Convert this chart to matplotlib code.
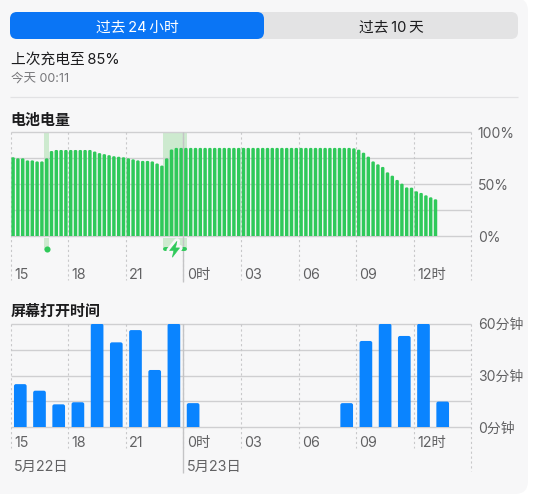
import matplotlib
matplotlib.use("Agg")
import matplotlib.pyplot as plt
from matplotlib.patches import FancyBboxPatch, Polygon, PathPatch
from matplotlib.path import Path

plt.rcParams['font.family'] = ['Inter', 'Noto Sans CJK SC', 'DejaVu Sans']

battery_values = [76,75,75,73,73,72,72,75,82,83,83,83,83,83,83,83,83,81.5,80,79,78,77,76.5,76,75,74,73,72.5,72.5,72,70,68,75,83.5]
battery_values += [85]*37
battery_values += [84.6,83.3,80.4,76.6,72,69.2,66.7,61.5,58.3,54.2,50.6,47,46.8,43.3,41.7,39.4,37.5,35.6]
screen_values = [25,21.2,13.3,14.5,60,49.2,56.3,33.2,60,14,0,0,0,0,0,0,0,14,50,60,52.9,60,14.9]
charge_spans = [(1.75, 2.0), (7.95, 9.18)]
tick_hours = [0,3,6,9,12,15,18,21]
tick_labels = ['15','18','21','0时','03','06','09','12时']
batt_ticks = [0,50,100]
batt_tick_labels = ['0%','50%','100%']
screen_ticks = [0,30,60]
screen_tick_labels = ['0分钟','30分钟','60分钟']

W, H = 542, 499
BG = '#f7f7f8'; GRID = '#cfcfd1'; DOT = '#c8c8ca'; TXT = '#616163'; BLK = '#1c1c1e'
GREEN = '#2fc95a'; SHADE = '#cdeacf'; BLUE = '#0a84ff'

fig = plt.figure(figsize=(W/100, H/100), dpi=100, facecolor='white')
bgax = fig.add_axes([0,0,1,1]); bgax.set_xlim(0,W); bgax.set_ylim(H,0); bgax.axis('off')
bgax.add_patch(FancyBboxPatch((-20,-2),548,496,boxstyle='round,pad=0,rounding_size=13',fc=BG,ec='none'))
bgax.add_patch(FancyBboxPatch((10,12),508,27,boxstyle='round,pad=0,rounding_size=7',fc='#e3e3e4',ec='none'))
bgax.add_patch(FancyBboxPatch((10,12),254,27,boxstyle='round,pad=0,rounding_size=7',fc='#0a75f5',ec='none'))
TC = dict(ha='center', va='center_baseline')
TL = dict(ha='left', va='center_baseline')
bgax.text(137,26,'过去\u200924\u2009小时',color='white',fontsize=10.6,**TC)
bgax.text(391,26,'过去\u200910\u2009天',color=BLK,fontsize=10.6,**TC)
bgax.text(11,58.5,'上次充电至\u200985%',color=BLK,fontsize=10.6,**TL)
bgax.text(11,77,'今天 00:11',color='#77777a',fontsize=9.0,**TL)
bgax.plot([10,518],[97,97],color='#e2e2e4',lw=0.9,solid_capstyle='butt')
bgax.text(10.3,119,'电池电量',color=BLK,fontsize=10.8,fontweight='bold',**TL)
bgax.text(10.3,310.5,'屏幕打开时间',color=BLK,fontsize=10.8,fontweight='bold',**TL)

X0, X1 = 10.7, 471.5
def make_ax(top, bottom, ymax):
    ax = fig.add_axes([X0/W, 1-bottom/H, (X1-X0)/W, (bottom-top)/H])
    ax.set_xlim(0,24); ax.set_ylim(0,ymax); ax.patch.set_alpha(0)
    for s in ax.spines.values(): s.set_visible(False)
    ax.set_xticks([]); ax.set_yticks([])
    return ax

def rounded_bars(ax, xs, vals, width, radius_px, color, zorder):
    rx = radius_px/((X1-X0)/24)
    ry = radius_px*ax.get_ylim()[1]/(ax.get_position().height*H)
    M, L, C = Path.MOVETO, Path.LINETO, Path.CURVE3
    for x, v in zip(xs, vals):
        if v <= 0: continue
        l, r = x-width/2, x+width/2
        verts = [(l,0),(l,v-ry),(l,v),(l+rx,v),(r-rx,v),(r,v),(r,v-ry),(r,0),(l,0)]
        codes = [M,L,C,C,L,C,C,L,Path.CLOSEPOLY]
        ax.add_patch(PathPatch(Path(verts,codes),fc=color,ec='none',zorder=zorder))

def furniture(ax, ymax, yticks, ylabels, dot_px, last_px, solid_px, lab_px):
    per = ymax/(ax.get_position().height*H)
    for k in range(5):
        ax.plot([0,24],[ymax*k/4]*2,color=GRID,lw=1.0,zorder=1,clip_on=False,solid_capstyle='butt')
    for t in tick_hours + [24]:
        end = last_px if t==24 else dot_px
        ax.plot([t,t],[ymax,-end*per],color=DOT,lw=0.8,ls=(0,(2,2.4)),zorder=1,clip_on=False)
    ax.plot([9,9],[ymax,-solid_px*per],color='#c4c4c6',lw=1.0,zorder=1,clip_on=False,solid_capstyle='butt')
    for t,l in zip(tick_hours,tick_labels):
        ax.text(t+0.17,-lab_px*per,l,color=TXT,fontsize=10.3,**TL)
    for v,l in zip(yticks,ylabels):
        ax.text(24.33,v,l,color=TXT,fontsize=10.0,clip_on=False,**TL)

# battery
ax1 = make_ax(132.3,236.3,100)
furniture(ax1,100,batt_ticks,batt_tick_labels,44,44,45.5,37.5)
per1 = 100/104
for a,b in charge_spans:
    ax1.axvspan(a,b,ymin=0,ymax=1,color=SHADE,lw=0,zorder=0.5)
    ax1.bar((a+b)/2,-12*per1,width=b-a,bottom=-1.5*per1,color=SHADE,lw=0,zorder=0.5,clip_on=False)
    if b-a > 0.5:
        ax1.plot([a+0.1,b-0.1],[-13*per1]*2,color=GREEN,lw=2.8,solid_capstyle='round',clip_on=False,zorder=3)
    else:
        ax1.plot([(a+b)/2],[-13*per1],'o',color=GREEN,ms=4.4,mew=0,clip_on=False,zorder=3)
bx = [(i+0.5)*0.25 for i in range(len(battery_values))]
rounded_bars(ax1,bx,battery_values,0.18,1.3,GREEN,3)
# lightning bolt, placed at the middle of the long charging span
bc = sum(charge_spans[1])/2 - 0.03
bolt = [(2.4,8),(-5,-1.2),(-0.8,-1.2),(-2.2,-8),(5,1.4),(0.9,1.4)]
ax1.add_patch(Polygon([(bc+p/19.2,(-13+q)*per1) for p,q in bolt],closed=True,fc=BG,ec=BG,lw=4.5,
              joinstyle='round',clip_on=False,zorder=4))
ax1.add_patch(Polygon([(bc+p/19.2,(-13+q)*per1) for p,q in bolt],closed=True,fc=GREEN,ec=GREEN,lw=0.4,
              clip_on=False,zorder=5))

# screen
ax2 = make_ax(323.7,427.3,60)
furniture(ax2,60,screen_ticks,screen_tick_labels,21,44,46,14.5)
sx = [i+0.5 for i in range(len(screen_values))]
rounded_bars(ax2,sx,screen_values,0.66,2,BLUE,3)
ax2.text(0.17,-38.5*60/103.6,'5月22日',color=TXT,fontsize=10.3,**TL)
ax2.text(9.17,-38.5*60/103.6,'5月23日',color=TXT,fontsize=10.3,**TL)

fig.savefig('out.png',dpi=100,facecolor='white')
